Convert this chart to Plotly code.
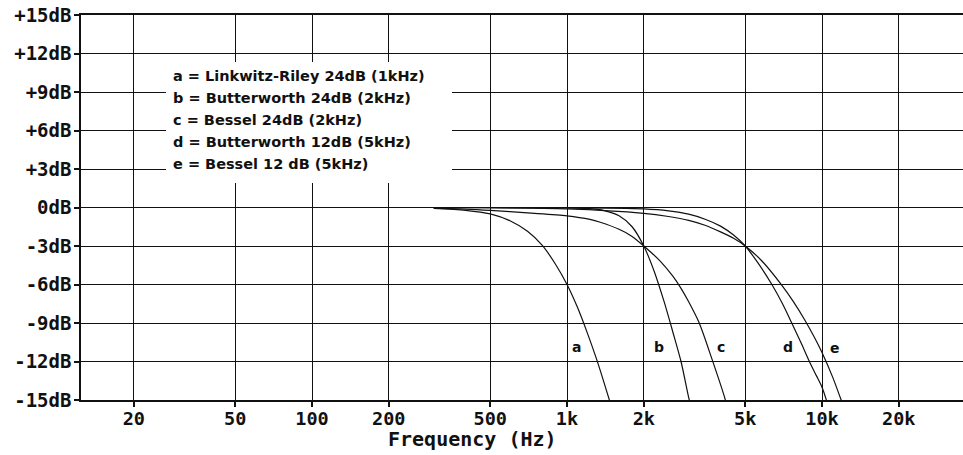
import math
import plotly.graph_objects as go

# ---------------- data ----------------
freq_a = [300, 400, 500, 600, 700, 800, 900, 1000, 1100, 1200, 1300, 1400, 1466, 1500]
db_a = [-0.07, -0.22, -0.5, -1.05, -1.85, -2.95, -4.4, -6.0, -7.8, -9.75, -11.7, -13.7, -15.0, -15.6]

freq_b = [300, 500, 800, 1000, 1200, 1400, 1600, 1800, 2000, 2200, 2400, 2600, 2800, 3000, 3100]
db_b = [0.0, 0.0, -0.01, -0.02, -0.07, -0.24, -0.65, -1.5, -3.0, -5.0, -7.3, -9.7, -12.0, -14.8, -15.9]

freq_c = [300, 400, 500, 700, 1000, 1230, 1350, 1600, 1800, 2000, 2300, 2600, 2800, 3000, 3300, 3700, 4150, 4300]
db_c = [-0.05, -0.12, -0.22, -0.42, -0.65, -0.93, -1.15, -1.7, -2.25, -3.0, -4.1, -5.35, -6.3, -7.35, -9.0, -11.8, -14.8, -16.0]

freq_d = [300, 1000, 2000, 2500, 3000, 3500, 4000, 4500, 5000, 5600, 6360, 7000, 7610, 8300, 8920, 9500, 10000, 10400, 10600]
db_d = [0.0, -0.01, -0.11, -0.26, -0.52, -0.93, -1.45, -2.15, -3.0, -4.3, -6.0, -7.5, -9.0, -10.6, -12.0, -13.1, -14.0, -15.0, -15.6]

freq_e = [300, 1000, 2000, 2500, 3000, 3500, 4000, 4500, 5000, 5800, 6950, 7700, 8580, 9300, 10000, 11000, 11840, 12200]
db_e = [0.0, -0.1, -0.45, -0.7, -1.0, -1.4, -1.9, -2.4, -3.0, -4.15, -6.05, -7.3, -8.8, -10.05, -11.3, -13.2, -14.9, -15.6]

curve_names = ["a", "b", "c", "d", "e"]
curve_freqs = [freq_a, freq_b, freq_c, freq_d, freq_e]
curve_dbs = [db_a, db_b, db_c, db_d, db_e]

legend_lines = [
    "a = Linkwitz-Riley 24dB (1kHz)",
    "b = Butterworth 24dB (2kHz)",
    "c = Bessel 24dB (2kHz)",
    "d = Butterworth 12dB (5kHz)",
    "e = Bessel 12 dB (5kHz)",
]

x_tick_vals = [20, 50, 100, 200, 500, 1000, 2000, 5000, 10000, 20000]
x_tick_text = ["20", "50", "100", "200", "500", "1k", "2k", "5k", "10k", "20k"]
y_tick_vals = [15, 12, 9, 6, 3, 0, -3, -6, -9, -12, -15]
y_tick_text = ["+15dB", "+12dB", "+9dB", "+6dB", "+3dB", "0dB", "-3dB", "-6dB", "-9dB", "-12dB", "-15dB"]

# curve letter label positions (frequency, dB)
label_f = [1094, 2295, 4010, 7370, 11200]
label_db = [-10.85, -10.85, -10.85, -10.85, -10.95]

# ---------------- figure ----------------
W, H = 963, 455
ML, MR, MT, MB = 81, 0, 15, 55
PW, PH = W - ML - MR, H - MT - MB


def px(x):
    return (x - ML) / PW


def py(y):
    return (H - MB - y) / PH


fig = go.Figure()
for name, f, d in zip(curve_names, curve_freqs, curve_dbs):
    fig.add_trace(go.Scatter(
        x=f, y=d, mode="lines", name=name,
        line=dict(color="#111111", width=1.2, shape="spline", smoothing=0.8),
        showlegend=False, hoverinfo="skip",
    ))

mono = "DejaVu Sans Mono"
sans = "DejaVu Sans"

# white box behind the legend text (covers the grid)
fig.add_shape(type="rect", xref="paper", yref="paper",
              x0=px(166), x1=px(452), y0=py(183), y1=py(62),
              fillcolor="white", line=dict(width=0), layer="above")

legend_y = [76, 98, 120, 142, 164]
for t, yy in zip(legend_lines, legend_y):
    fig.add_annotation(text=t, xref="paper", yref="paper", x=px(171), y=py(yy),
                       xanchor="left", yanchor="middle", showarrow=False,
                       font=dict(family=sans, size=14.5, color="#111111", weight="bold"))

# annotations on a log axis take log10 coordinates
for name, lf, ld in zip(curve_names, label_f, label_db):
    fig.add_annotation(text=name, x=math.log10(lf), y=ld, xref="x", yref="y",
                       xanchor="center", yanchor="middle", showarrow=False,
                       font=dict(family=sans, size=14, color="#111111", weight="bold"))

fig.add_annotation(text="Frequency (Hz)", xref="paper", yref="paper",
                   x=px(472), y=py(439), xanchor="center", yanchor="middle",
                   showarrow=False,
                   font=dict(family=mono, size=20, color="#111111", weight="bold"))

fig.update_layout(
    width=W, height=H,
    margin=dict(l=ML, r=MR, t=MT, b=MB, pad=0),
    paper_bgcolor="white", plot_bgcolor="white",
    xaxis=dict(
        type="log", range=[1.0941, 4.5529],
        tickmode="array", tickvals=x_tick_vals, ticktext=x_tick_text,
        ticks="outside", ticklen=5, tickwidth=1.5, tickcolor="#111111",
        showgrid=True, gridcolor="#111111", gridwidth=1.4,
        showline=True, linecolor="#111111", linewidth=1.5, mirror=True,
        zeroline=False, ticklabelstandoff=-4,
        tickfont=dict(family=mono, size=18.5, color="#111111", weight="bold"),
    ),
    yaxis=dict(
        range=[-15, 15],
        tickmode="array", tickvals=y_tick_vals, ticktext=y_tick_text,
        ticks="outside", ticklen=5, tickwidth=1.5, tickcolor="#111111",
        showgrid=True, gridcolor="#111111", gridwidth=1.4,
        showline=True, linecolor="#111111", linewidth=1.5,
        zeroline=False, ticklabelstandoff=-1,
        tickfont=dict(family=mono, size=19, color="#111111", weight="bold"),
    ),
)

fig.write_html("out.html", config={"displayModeBar": False},
               post_script="document.body.style.margin='0px';")
